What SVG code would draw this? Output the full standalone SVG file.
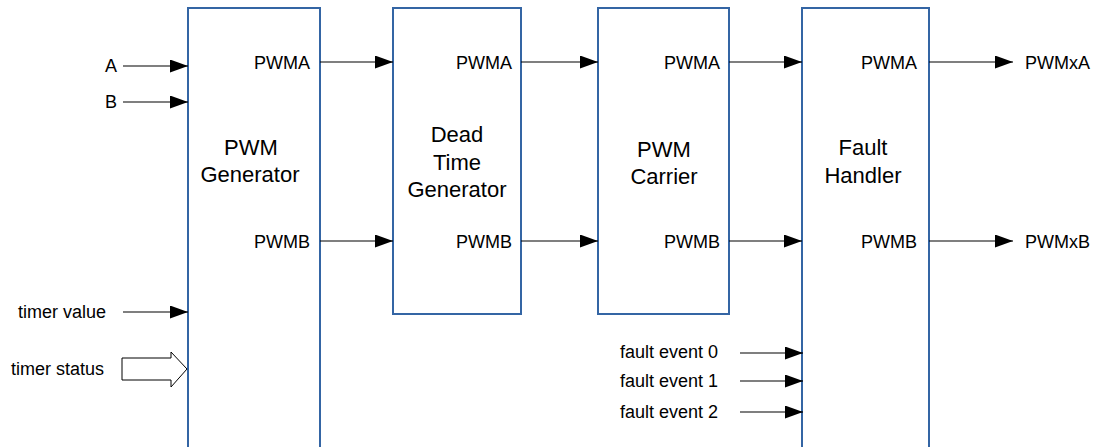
<svg xmlns="http://www.w3.org/2000/svg" width="1094" height="447" viewBox="0 0 1094 447">
<defs>
<marker id="ah" markerUnits="userSpaceOnUse" markerWidth="20" markerHeight="14" refX="18" refY="6.5" orient="auto">
<path d="M0,0 L18,6.5 L0,13 Z" fill="#000"/>
</marker>
<style>
.box{fill:#fff;stroke:#3465a4;stroke-width:2}
.t{font-family:"Liberation Sans",Arial,sans-serif;fill:#000}
.lbl{font-size:18px}
.ttl{font-size:22px;text-anchor:middle}
.c{stroke:#000;stroke-width:1.2;fill:none;marker-end:url(#ah)}
</style>
</defs>
<rect width="1094" height="447" fill="#fff"/>
<g id="pwm-generator">
<rect class="box" x="188" y="8" width="132" height="450"/>
<text class="t ttl" x="251" y="155">PWM</text>
<text class="t ttl" x="250" y="182">Generator</text>
<text class="t lbl" x="310" y="69" text-anchor="end">PWMA</text>
<text class="t lbl" x="310" y="248" text-anchor="end">PWMB</text>
</g>
<g id="dead-time-generator">
<rect class="box" x="393" y="8" width="128" height="306"/>
<text class="t ttl" x="457" y="142">Dead</text>
<text class="t ttl" x="457" y="170">Time</text>
<text class="t ttl" x="457" y="197">Generator</text>
<text class="t lbl" x="512" y="69" text-anchor="end">PWMA</text>
<text class="t lbl" x="512" y="248" text-anchor="end">PWMB</text>
</g>
<g id="pwm-carrier">
<rect class="box" x="598" y="8" width="131" height="306"/>
<text class="t ttl" x="664" y="157">PWM</text>
<text class="t ttl" x="664" y="184">Carrier</text>
<text class="t lbl" x="720" y="69" text-anchor="end">PWMA</text>
<text class="t lbl" x="720" y="248" text-anchor="end">PWMB</text>
</g>
<g id="fault-handler">
<rect class="box" x="802" y="8" width="127" height="450"/>
<text class="t ttl" x="863" y="155">Fault</text>
<text class="t ttl" x="863" y="183">Handler</text>
<text class="t lbl" x="917" y="69" text-anchor="end">PWMA</text>
<text class="t lbl" x="917" y="248" text-anchor="end">PWMB</text>
</g>
<g id="inputs">
<text class="t lbl" x="117" y="72" text-anchor="end">A</text>
<text class="t lbl" x="117" y="108" text-anchor="end">B</text>
<text class="t lbl" x="106" y="318" text-anchor="end">timer value</text>
<text class="t lbl" x="104" y="375" text-anchor="end">timer status</text>
<text class="t lbl" x="620" y="358">fault event 0</text>
<text class="t lbl" x="620" y="387">fault event 1</text>
<text class="t lbl" x="620" y="418">fault event 2</text>
<text class="t lbl" x="1025" y="69">PWMxA</text>
<text class="t lbl" x="1025" y="248">PWMxB</text>
</g>
<g id="connectors">
<line class="c" x1="123" y1="66" x2="188" y2="66"/>
<line class="c" x1="123" y1="102" x2="188" y2="102"/>
<line class="c" x1="123" y1="312" x2="188" y2="312"/>
<path d="M122,358 L171,358 L171,352 L187,369 L171,387 L171,380 L122,380 Z" fill="#fff" stroke="#000" stroke-width="1"/>
<line class="c" x1="320" y1="62" x2="393" y2="62"/>
<line class="c" x1="320" y1="241" x2="393" y2="241"/>
<line class="c" x1="521" y1="62" x2="598" y2="62"/>
<line class="c" x1="521" y1="241" x2="598" y2="241"/>
<line class="c" x1="729" y1="62" x2="802" y2="62"/>
<line class="c" x1="729" y1="241" x2="802" y2="241"/>
<line class="c" x1="929" y1="62" x2="1013" y2="62"/>
<line class="c" x1="929" y1="241" x2="1013" y2="241"/>
<line class="c" x1="740" y1="353" x2="803" y2="353"/>
<line class="c" x1="740" y1="381" x2="803" y2="381"/>
<line class="c" x1="740" y1="412" x2="803" y2="412"/>
</g>
</svg>
